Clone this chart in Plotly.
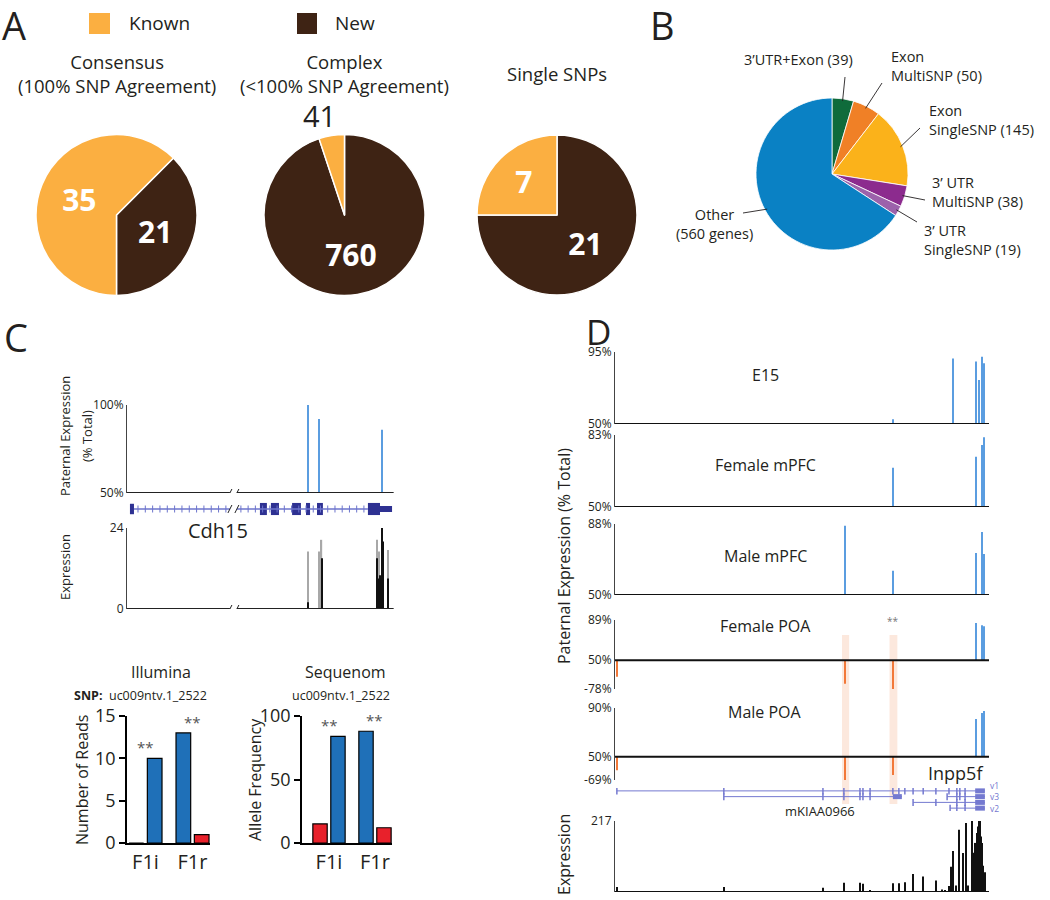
import numpy as np
import plotly.graph_objects as go

W, H = 1050, 900
FONT = "Open Sans"
TXT = "#231F20"
KNOWN_C = "#FBAF41"
NEW_C = "#3E2314"
BLUE_BAR = "#1F70B8"
RED_BAR = "#E8212B"
SNP_BLUE = "#5B9DE0"
MAT_ORANGE = "#F2793A"
GENE_DARK = "#2E3192"
GENE_LIGHT = "#6C74CC"
GENE_D = "#7479D0"
AXC = "#444444"


def fx(p):
    return p / W


def fy(p):
    return 1 - p / H


# ======================= DATA =======================
# ---- Panel A: SNP categories (Known vs New)
a_titles = ["Consensus<br>(100% SNP Agreement)", "Complex<br>(<100% SNP Agreement)", "Single SNPs"]
a_known = [35, 41, 7]
a_new = [21, 760, 21]

# ---- Panel B: gene categories
b_names = ["3’UTR+Exon", "Exon<br>MultiSNP", "Exon<br>SingleSNP", "3’ UTR<br>MultiSNP", "3’ UTR<br>SingleSNP", "Other"]
b_values = [39, 50, 145, 38, 19, 560]
b_colors = ["#0F6B3B", "#F08026", "#FBB21A", "#8C2B8E", "#9C62AB", "#0A81C4"]

# ---- Panel C: Cdh15 (relative genomic position 0-100)
c_snp_pos = [67.5, 71.6, 95.1]
c_snp_pat = [100, 92, 86]
c_exon_start = [1.1, 49.6, 53.7, 61.6, 66.8, 70.9, 89.9, 94.4]
c_exon_end = [2.6, 52.2, 56.7, 64.9, 68.3, 73.1, 94.4, 98.9]
c_exon_kind = ["first", "cds", "cds", "cds", "cds", "cds", "cds", "utr"]
c_intron_start = [2.6, 41.0]
c_intron_end = [38.4, 89.9]
c_break = [38.4, 41.0]
c_expr_gray_pos = [67.4, 71.6, 72.6, 93.2, 94.0, 97.3]
c_expr_gray_val = [17, 17, 20.5, 20.5, 17, 17.5]
c_expr_black_pos = [67.5, 72.7, 93.3, 93.6, 94.3, 94.6, 95.0, 95.4, 95.6, 97.4]
c_expr_black_val = [2, 15, 15, 9, 8, 10, 24, 20, 10, 9]

# ---- Panel C: validation bars
val_groups = ["F1i", "F1r"]
ill_left = [0, 13]
ill_right = [10, 1]
seq_left = [15, 88]
seq_right = [84, 12]
left_colors = [RED_BAR, BLUE_BAR]
right_colors = [BLUE_BAR, RED_BAR]
snp_id = "uc009ntv.1_2522"

# ---- Panel D: Inpp5f
d_tracks = ["E15", "Female mPFC", "Male mPFC", "Female POA", "Male POA"]
d_top = [95, 83, 88, 89, 90]
d_mat_axis = [None, None, None, 78, 69]
d_pat_pos = [[74.3, 90.4, 96.5, 97.3, 98.1, 98.7],
             [74.3, 96.5, 98.1, 98.7],
             [61.5, 74.3, 96.5, 98.1, 98.7],
             [96.5, 98.1, 98.7],
             [96.5, 98.1, 98.7]]
d_pat_val = [[53, 91, 89, 77.5, 92, 88],
             [68, 73, 78.4, 82],
             [87, 63, 72.5, 83.7, 72],
             [86, 84, 83],
             [81, 86, 87.5]]
d_mat_pos = [[], [], [], [0.5, 61.5, 74.3], [0.5, 61.5, 74.3]]
d_mat_val = [[], [], [], [66, 73, 78], [61, 69, 65]]
d_highlight = [[60.7, 62.6], [73.4, 75.5]]
d_expr_pos = [0.5, 29.1, 55.6, 61.2, 65.5, 66.3, 68.2, 74.3, 75.9, 77.5, 79.7, 82.4, 85.8, 87.4,
              88.2, 89.3, 89.8, 90.1, 90.4, 91.2, 92.0, 93.0, 93.9, 94.4, 95.5, 95.8, 96.0, 96.4,
              96.8, 97.1, 97.3, 97.6, 97.9, 98.1, 98.4, 98.9]
d_expr_val = [15, 15, 13, 28, 28, 25, 6, 27, 27, 30, 55, 47, 35, 8,
              5, 18, 77, 60, 125, 20, 190, 119, 211, 20, 217, 120, 90, 150,
              180, 200, 217, 217, 170, 150, 80, 60]
# transcripts: row, start, end, exon ticks, terminal block
d_tx_row = [4, 3, 3, 2, 1]
d_tx_start = [0.5, 29.1, 88.8, 79.7, 89.6]
d_tx_end = [98.9, 76.7, 98.9, 98.9, 98.9]
d_tx_exons = [[0.5, 29.1, 55.6, 61.2, 65.5, 66.3, 68.2, 74.3, 75.9, 77.5, 79.7, 82.4, 85.8, 89.3, 91.4, 92.2, 93.6],
              [29.1, 55.6, 61.2, 65.5, 66.3, 68.2],
              [88.8, 91.4, 92.2, 93.6],
              [79.7, 85.8, 91.4, 93.6],
              [89.6, 91.4, 93.6]]
d_tx_block = [[96.3, 98.9], [74.3, 76.7], [96.3, 98.9], [96.3, 98.9], [96.3, 98.9]]
d_tx_labels = ["v1", "v3", "v2"]

# ======================= FIGURE =======================
fig = go.Figure()
layout = {}
annotations = []
shapes = []


def ann(text, x, y, size, color=TXT, xanchor="center", yanchor="middle", **kw):
    d = dict(text=text, x=fx(x), y=fy(y), xref="paper", yref="paper", showarrow=False,
             font=dict(size=size, color=color, family=FONT), xanchor=xanchor, yanchor=yanchor)
    d.update(kw)
    annotations.append(d)


def axes(n, xdom, ydom, xrange=None, yrange=None, xkw=None, ykw=None):
    sx = "" if n == 1 else str(n)
    xa = dict(domain=[fx(xdom[0]), fx(xdom[1])], anchor="y" + sx, showgrid=False, zeroline=False,
              visible=False, automargin=False)
    ya = dict(domain=[fy(ydom[1]), fy(ydom[0])], anchor="x" + sx, showgrid=False, zeroline=False,
              visible=False, automargin=False)
    if xrange is not None:
        xa["range"] = xrange
    if yrange is not None:
        ya["range"] = yrange
    if xkw:
        xa.update(xkw)
    if ykw:
        ya.update(ykw)
    layout["xaxis" + sx] = xa
    layout["yaxis" + sx] = ya
    return "x" + sx, "y" + sx


track_y = dict(visible=True, showline=True, linecolor=AXC, linewidth=1, ticks="inside", ticklen=4,
               tickcolor=AXC, tickfont=dict(size=12, color=TXT))

# ---------- Panel A ----------
ann("A", 0, 25, 38, xanchor="left")
shapes.append(dict(type="rect", xref="paper", yref="paper", x0=fx(89), x1=fx(110), y0=fy(34), y1=fy(13),
                   fillcolor=KNOWN_C, line=dict(width=0)))
ann("Known", 127, 23, 19, xanchor="left")
shapes.append(dict(type="rect", xref="paper", yref="paper", x0=fx(297), x1=fx(317), y0=fy(34), y1=fy(13),
                   fillcolor=NEW_C, line=dict(width=0)))
ann("New", 333, 23, 19, xanchor="left")

a_dom = [(36, 197), (264, 425), (477, 637)]
a_rot = [45, 0, 0]
a_title_y = [74, 74, 73]
for i in range(3):
    vals = [a_new[i], a_known[i]]
    small = a_known[i] / sum(vals) < 0.1
    if small:
        text = ["<b>%d</b>" % a_new[i], ""]
        # small slice: value written above the pie
        ann("%d" % a_known[i], 319, 116, 29)
    else:
        text = ["<b>%d</b>" % v for v in vals]
    fig.add_trace(go.Pie(values=vals, labels=["New", "Known"], sort=False, direction="clockwise",
                         rotation=a_rot[i], marker=dict(colors=[NEW_C, KNOWN_C], line=dict(color="white", width=1.5)),
                         text=text, textinfo="text", textposition="inside",
                         textfont=dict(color="white", size=30, family=FONT),
                         insidetextorientation="horizontal",
                         domain=dict(x=[fx(a_dom[i][0]), fx(a_dom[i][1])], y=[fy(296), fy(134)]),
                         showlegend=False, hoverinfo="label+value"))
    ann(a_titles[i], (a_dom[i][0] + a_dom[i][1]) / 2, a_title_y[i], 18.5)

# ---------- Panel B ----------
ann("B", 648, 25, 38, xanchor="left")
b_cx, b_cy, b_r = 832, 174, 76
fig.add_trace(go.Pie(values=b_values, labels=b_names, sort=False, direction="clockwise", rotation=0,
                     marker=dict(colors=b_colors, line=dict(color="white", width=0.8)), textinfo="none",
                     domain=dict(x=[fx(b_cx - b_r), fx(b_cx + b_r)], y=[fy(b_cy + b_r), fy(b_cy - b_r)]),
                     showlegend=False, hoverinfo="label+value"))
b_text_pos = [(855, 60, "right"), (889, 66, "left"), (927, 120, "left"), (930, 192, "left"),
              (922, 240, "left"), (714, 224, "center")]
b_line_start = [(845, 77), (882, 83), (920, 128), (925, 200), (917, 222), (743, 213)]
tot = float(sum(b_values))
cum = 0.0
for i, v in enumerate(b_values):
    mid = 2 * np.pi * (cum + v / 2.0) / tot
    cum += v
    tx = b_cx + 0.97 * b_r * np.sin(mid)
    ty = b_cy - 0.97 * b_r * np.cos(mid)
    sx, sy = b_line_start[i]
    shapes.append(dict(type="line", xref="paper", yref="paper", x0=fx(sx), y0=fy(sy), x1=fx(tx), y1=fy(ty),
                       line=dict(color=TXT, width=0.9)))
    if b_names[i] == "Other":
        label = "Other<br>(%d genes)" % v
    else:
        label = "%s (%d)" % (b_names[i], v)
    x, y, anc = b_text_pos[i]
    ann(label, x, y, 14.5, xanchor=anc, align=anc)

# ---------- Panel C: gene tracks ----------
ann("C", 2, 337, 38, xanchor="left")
cx_dom = (127, 395)
# paternal expression track
xa, ya = axes(1, cx_dom, (405, 493), [0, 100], [0, 50],
              ykw=dict(track_y, tickvals=[0, 50], ticktext=["50%", "100%"]))
fig.add_trace(go.Bar(x=c_snp_pos, y=[v - 50 for v in c_snp_pat], width=0.55, offset=-0.275,
                     marker=dict(color=SNP_BLUE, line=dict(width=0)), xaxis=xa, yaxis=ya, showlegend=False,
                     hovertemplate="%{x}: %{customdata}%<extra></extra>", customdata=c_snp_pat))
# gene model
xa2, ya2 = axes(2, cx_dom, (498, 520), [0, 100], [-1, 1])
for s, e in zip(c_intron_start, c_intron_end):
    fig.add_trace(go.Scatter(x=[s, e], y=[0, 0], mode="lines", line=dict(color=GENE_LIGHT, width=1.6),
                             xaxis=xa2, yaxis=ya2, showlegend=False, hoverinfo="skip"))
    chev = np.linspace(s + 1.5, e - 1.5, max(2, int((e - s) / 2.6)))
    fig.add_trace(go.Scatter(x=chev, y=np.zeros(len(chev)), mode="markers",
                             marker=dict(symbol="line-ns", size=5, line=dict(color=GENE_LIGHT, width=1)),
                             xaxis=xa2, yaxis=ya2, showlegend=False, hoverinfo="skip"))
kind_h = {"first": 0.95, "cds": 1.1, "utr": 0.55}
ex_h = [kind_h[k] for k in c_exon_kind]
ex_w = [e - s for s, e in zip(c_exon_start, c_exon_end)]
fig.add_trace(go.Bar(x=c_exon_start, y=ex_h, base=[-h / 2 for h in ex_h], width=ex_w, offset=0,
                     marker=dict(color=GENE_DARK, line=dict(width=0)), xaxis=xa2, yaxis=ya2,
                     showlegend=False, hoverinfo="skip"))
ann("Cdh15", 218, 530, 20)
# expression track
xa3, ya3 = axes(3, cx_dom, (528, 609), [0, 100], [0, 24],
                ykw=dict(track_y, tickvals=[0, 24], ticktext=["0", "24"]))
fig.add_trace(go.Bar(x=c_expr_gray_pos, y=c_expr_gray_val, width=0.45, offset=-0.225,
                     marker=dict(color="#A8A8A8", line=dict(width=0)), xaxis=xa3, yaxis=ya3, showlegend=False))
fig.add_trace(go.Bar(x=c_expr_black_pos, y=c_expr_black_val, width=0.45, offset=-0.225,
                     marker=dict(color="#111111", line=dict(width=0)), xaxis=xa3, yaxis=ya3, showlegend=False))
# baselines with axis break
for (xr, yr) in [("x", "y"), ("x3", "y3")]:
    shapes.append(dict(type="line", xref=xr, yref=yr, x0=0, x1=c_break[0], y0=0, y1=0,
                       line=dict(color="#222222", width=2)))
    shapes.append(dict(type="line", xref=xr, yref=yr, x0=c_break[1], x1=99.5, y0=0, y1=0,
                       line=dict(color="#222222", width=2)))
for (xr, yr) in [("x", "y"), ("x2", "y2"), ("x3", "y3")]:
    for bx in c_break:
        shapes.append(dict(type="line", xref=xr, yref=yr, xsizemode="pixel", ysizemode="pixel",
                           xanchor=bx, yanchor=0, x0=-2, x1=2, y0=-4, y1=4,
                           line=dict(color="#222222", width=1)))
ann("Paternal Expression", 65, 436, 13, textangle=-90)
ann("(% Total)", 87, 436, 13, textangle=-90)
ann("Expression", 65, 567, 13, textangle=-90)

# ---------- Panel C: validation bars ----------
bar_y = dict(visible=True, showline=True, linecolor="black", linewidth=1.5, ticks="outside", ticklen=6,
             tickwidth=1.5, tickcolor="black", tickfont=dict(size=18, color=TXT))
bar_x = dict(visible=True, type="category", showline=True, linecolor="black", linewidth=1.5, ticks="",
             tickfont=dict(size=20, color=TXT))
xa4, ya4 = axes(4, (127, 210), (716, 843), [-0.394, 1.372], [0, 15],
                xkw=bar_x, ykw=dict(bar_y, tickvals=[0, 5, 10, 15]))
xa5, ya5 = axes(5, (302, 392), (716, 843), [-0.587, 1.37], [0, 100],
                xkw=bar_x, ykw=dict(bar_y, tickvals=[0, 50, 100]))
for (xr, yr, lv, rv) in [(xa4, ya4, ill_left, ill_right), (xa5, ya5, seq_left, seq_right)]:
    fig.add_trace(go.Bar(x=val_groups, y=lv, offsetgroup="L",
                         marker=dict(color=left_colors, line=dict(color="black", width=1.2)),
                         xaxis=xr, yaxis=yr, showlegend=False))
    fig.add_trace(go.Bar(x=val_groups, y=rv, offsetgroup="R",
                         marker=dict(color=right_colors, line=dict(color="black", width=1.2)),
                         xaxis=xr, yaxis=yr, showlegend=False))
    for g, l, r in zip(val_groups, lv, rv):
        annotations.append(dict(text="**", x=g, y=max(l, r), xref=xr, yref=yr, showarrow=False,
                                yshift=11, font=dict(size=15, color="#555555", family=FONT)))
ann("Illumina", 161, 672, 16)
ann("Sequenom", 345, 672, 16)
ann("<b>SNP:</b>  " + snp_id, 72, 695, 12.5, xanchor="left")
ann(snp_id, 341, 695, 12.5)
ann("Number of Reads", 82, 780, 16, textangle=-90)
ann("Allele Frequency", 255, 780, 16, textangle=-90)

# ---------- Panel D ----------
ann("D", 584, 331, 35, xanchor="left")
dx_dom = (615, 989)
d_dom = [(352, 424), (435, 507), (524, 595), (620, 689), (708, 780)]
d_label_y = [375, 465, 556, 626, 712]
for k in range(5):
    n = 6 + k
    top = d_top[k] - 50
    if d_mat_axis[k] is None:
        lo = 0
        tv, tt = [0, top], ["50%", "%d%%" % d_top[k]]
    else:
        lo = -(d_mat_axis[k] - 50)
        tv, tt = [lo, 0, top], ["-%d%%" % d_mat_axis[k], "50%", "%d%%" % d_top[k]]
    xr, yr = axes(n, dx_dom, d_dom[k], [0, 100], [lo, top],
                  ykw=dict(track_y, tickvals=tv, ticktext=tt, tickfont=dict(size=12, color=TXT)))
    if d_pat_pos[k]:
        fig.add_trace(go.Bar(x=d_pat_pos[k], y=[v - 50 for v in d_pat_val[k]], width=0.4, offset=-0.2,
                             marker=dict(color=SNP_BLUE, line=dict(width=0)), xaxis=xr, yaxis=yr,
                             showlegend=False))
    if d_mat_pos[k]:
        fig.add_trace(go.Bar(x=d_mat_pos[k], y=[-(v - 50) for v in d_mat_val[k]], width=0.4, offset=-0.2,
                             marker=dict(color=MAT_ORANGE, line=dict(width=0)), xaxis=xr, yaxis=yr,
                             showlegend=False))
    shapes.append(dict(type="line", xref=xr + " domain", yref=yr, x0=0, x1=1, y0=0, y1=0,
                       line=dict(color="#111111", width=2)))
    ann(d_tracks[k], 765, d_label_y[k], 16)

# highlight bands
for s, e in d_highlight:
    shapes.append(dict(type="rect", xref="x6", yref="paper", x0=s, x1=e, y0=fy(804), y1=fy(635),
                       fillcolor="#FBE0D2", opacity=0.75, line=dict(width=0), layer="below"))
annotations.append(dict(text="**", x=d_highlight[1][0] / 2 + d_highlight[1][1] / 2, y=fy(630), xref="x9",
                        yref="paper", showarrow=False, font=dict(size=10, color="#777777", family=FONT)))

# gene model D
xa11, ya11 = axes(11, dx_dom, (788, 811), [0, 100], [0.5, 4.5])
for i in range(len(d_tx_row)):
    r = d_tx_row[i]
    fig.add_trace(go.Scatter(x=[d_tx_start[i], d_tx_end[i]], y=[r, r], mode="lines",
                             line=dict(color=GENE_D, width=1), xaxis=xa11, yaxis=ya11,
                             showlegend=False, hoverinfo="skip"))
    fig.add_trace(go.Scatter(x=d_tx_exons[i], y=[r] * len(d_tx_exons[i]), mode="markers",
                             marker=dict(symbol="line-ns", size=5, line=dict(color=GENE_D, width=1.5)),
                             xaxis=xa11, yaxis=ya11, showlegend=False, hoverinfo="skip"))
    fig.add_trace(go.Scatter(x=d_tx_block[i], y=[r, r], mode="lines",
                             line=dict(color=GENE_D, width=5), xaxis=xa11, yaxis=ya11,
                             showlegend=False, hoverinfo="skip"))
for lab, ly in zip(d_tx_labels, [785, 796, 808]):
    ann(lab, 988, ly, 8.5, color=GENE_D, xanchor="left")
ann("Inpp5f", 955, 773, 18)
ann("mKIAA0966", 820, 811, 13)

# expression D
xa12, ya12 = axes(12, dx_dom, (821, 892), [0, 100], [0, 217],
                  ykw=dict(track_y, tickvals=[0, 217], ticktext=["0", "217"], tickfont=dict(size=12, color=TXT)))
fig.add_trace(go.Bar(x=d_expr_pos, y=d_expr_val, width=0.35, offset=-0.175,
                     marker=dict(color="#111111", line=dict(width=0)), xaxis=xa12, yaxis=ya12, showlegend=False))
shapes.append(dict(type="line", xref="x12 domain", yref="y12", x0=0, x1=1, y0=0, y1=0,
                   line=dict(color="#111111", width=2)))
ann("Paternal Expression (% Total)", 564, 556, 16, textangle=-90)
ann("Expression", 564, 855, 16, textangle=-90)

fig.update_layout(template="none", width=W, height=H,
                  margin=dict(l=0, r=0, t=0, b=0, pad=0, autoexpand=False),
                  paper_bgcolor="white",
                  plot_bgcolor="white", font=dict(family=FONT, color=TXT), barmode="group",
                  bargap=0.22, bargroupgap=0.2, showlegend=False,
                  annotations=annotations, shapes=shapes, **layout)
fig.write_html("out.html", config={"displayModeBar": False},
               post_script="document.body.style.margin='0px';document.body.style.overflow='hidden';")
